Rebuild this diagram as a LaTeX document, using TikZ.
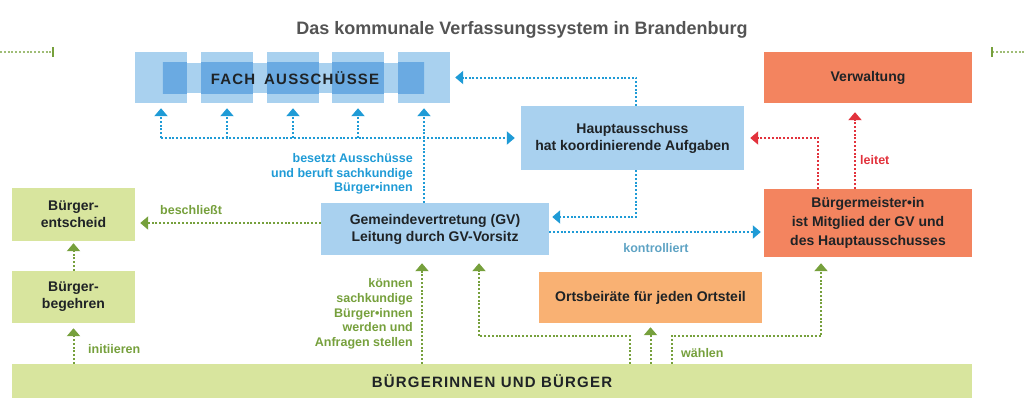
\documentclass[tikz,border=0pt]{standalone}
\usepackage{fontspec}
\setmainfont{Liberation Sans}
\usetikzlibrary{arrows.meta,positioning}
\definecolor{boxblue}{HTML}{A9D1EF}
\definecolor{fachdark}{HTML}{6AAAE2}
\definecolor{coral}{HTML}{F3845F}
\definecolor{apricot}{HTML}{F9B173}
\definecolor{lightgrn}{HTML}{D8E59E}
\definecolor{grn}{HTML}{76A03C}
\definecolor{blu}{HTML}{1F9BD6}
\definecolor{rd}{HTML}{E2323C}
\definecolor{ink}{HTML}{1F2326}
\definecolor{titlegray}{HTML}{545454}

\begin{document}
\begin{tikzpicture}[x=1pt,y=-1pt,
  box/.style={inner sep=0pt,align=center,text=ink,
    font=\fontsize{14}{17}\selectfont\bfseries},
  fachsq/.style={fill=boxblue,inner sep=0pt,minimum width=52pt,minimum height=51pt},
  lbl/.style={inner sep=0pt,font=\fontsize{12.5}{14.75}\selectfont\bfseries},
  dotline/.style={line width=2pt,dash pattern=on 2pt off 1.8pt},
  bluflow/.style={dotline,draw=blu,-{Triangle[width=13pt,length=8pt]}},
  grnflow/.style={dotline,draw=grn,-{Triangle[width=13pt,length=8pt]}},
  redflow/.style={dotline,draw=rd,-{Triangle[width=13pt,length=8pt]}}
]
  \useasboundingbox (0,0) rectangle (1024,413);

  \node[anchor=base,text=titlegray,font=\fontsize{18}{20}\selectfont\bfseries]
    (title) at (522,34) {Das kommunale Verfassungssystem in Brandenburg};

  % Fachausschuesse
  \foreach \i/\x in {1/161,2/227,3/293,4/358,5/424}
    \node[fachsq] (sq\i) at (\x,77.5) {};
  \node[fill=boxblue,inner sep=0pt,minimum width=261pt,minimum height=30pt]
    (fach) at (293.5,78) {};
  \begin{scope}
    \clip (fach.north west) rectangle (fach.south east);
    \foreach \i in {1,...,5}
      \fill[fachdark] (sq\i.north west) rectangle (sq\i.south east);
  \end{scope}
  \node[text=ink,font=\fontsize{15}{18}\selectfont\bfseries\addfontfeatures{LetterSpace=8}]
    (fachtxt) at (295,78) {FACH\hspace{9pt}AUSSCHÜSSE};

  % Kaesten
  \node[box,fill=boxblue,minimum width=223pt,minimum height=64pt] (haupt) at (632.5,138)
    {Hauptausschuss\\hat koordinierende Aufgaben};
  \node[box,fill=coral,minimum width=208pt,minimum height=51pt] (verw) at (868,77.5)
    {Verwaltung};
  \node[box,fill=boxblue,minimum width=228pt,minimum height=52pt] (gv) at (435,229)
    {Gemeindevertretung (GV)\\Leitung durch GV-Vorsitz};
  \node[box,fill=coral,minimum width=208pt,minimum height=68pt,
    font=\fontsize{14}{19}\selectfont\bfseries] (bgm) at (868,223)
    {Bürgermeister•in\\ist Mitglied der GV und\\des Hauptausschusses};
  \node[box,fill=lightgrn,minimum width=123pt,minimum height=53pt] (ent) at (73.5,214.5)
    {Bürger-\\entscheid};
  \node[box,fill=lightgrn,minimum width=123pt,minimum height=52pt] (beg) at (73.5,297)
    {Bürger-\\begehren};
  \node[box,fill=apricot,minimum width=223pt,minimum height=51pt] (orts) at (650.5,297.5)
    {Ortsbeiräte für jeden Ortsteil};
  \node[box,fill=lightgrn,minimum width=960pt,minimum height=34pt,
    font=\fontsize{15}{18}\selectfont\bfseries\addfontfeatures{LetterSpace=8}]
    (bar) at (492,381) {BÜRGERINNEN UND BÜRGER};

  % blaue Verbindungen
  \coordinate (bus) at (sq1 |- haupt.west);
  \draw[bluflow,shorten >=6pt] (bus) -- (haupt.west);
  \foreach \i in {1,...,4}
    \draw[bluflow,shorten >=5pt] (sq\i |- bus) -- (sq\i.south);
  \draw[bluflow,shorten >=5pt] (sq5 |- gv.north) -- (sq5.south);
  \draw[bluflow,shorten >=5pt] ([xshift=3.5pt]haupt.north) |- (sq5.east);
  \draw[bluflow,shorten >=3pt] ([xshift=3.5pt]haupt.south) |- ([yshift=12pt]gv.east);
  \draw[bluflow,shorten >=3pt] ([yshift=-3pt]gv.east) -- ([yshift=-3pt]gv.east -| bgm.west);
  \node[lbl,text=blu,anchor=east,align=right] (besetzt) at (413,174)
    {besetzt Ausschüsse\\und beruft sachkundige\\Bürger•innen};
  \node[lbl,text=blu!80!black!70!white,anchor=base] (kontr) at (656,252) {kontrolliert};

  % rote Verbindungen
  \draw[redflow,shorten >=6pt] ([xshift=-50pt]bgm.north) |- (haupt.east);
  \draw[redflow,shorten >=9pt] ([xshift=-13pt]bgm.north) -- ([xshift=-13pt]verw.south);
  \node[lbl,text=rd,anchor=base west] (leitet) at (860,164) {leitet};

  % gruene Verbindungen
  \draw[grnflow,shorten >=5pt] ([yshift=6pt]gv.west) -- ([yshift=6pt]gv.west -| ent.east);
  \node[lbl,text=grn,anchor=base west] (beschl) at (160,214) {beschließt};
  \draw[grnflow,shorten >=2pt] (beg.north) -- (ent.south);
  \draw[grnflow,shorten >=5pt] (beg.south |- bar.north) -- (beg.south);
  \node[lbl,text=grn,anchor=base west] (init) at (88,353) {initiieren};

  \coordinate (gvin1) at ([xshift=-13pt]gv.south);
  \coordinate (gvin2) at ([xshift=44pt]gv.south);
  \coordinate (bmin) at ([xshift=-47pt]bgm.south);
  \coordinate (wl) at ([xshift=-21pt]orts.south);
  \coordinate (wr) at ([xshift=21pt]orts.south);
  \coordinate (wy) at ([yshift=-13pt]orts.south);
  \draw[grnflow,shorten >=8pt] (gvin1 |- bar.north) -- (gvin1);
  \node[lbl,text=grn,anchor=east,align=right] (koennen) at (413,314)
    {können\\sachkundige\\Bürger•innen\\werden und\\Anfragen stellen};
  \draw[grnflow,shorten >=8pt] (wl |- bar.north) -- (wl |- wy) -- (gvin2 |- wy) -- (gvin2);
  \draw[grnflow,shorten >=4pt] (orts.south |- bar.north) -- (orts.south);
  \draw[grnflow,shorten >=6pt] (wr |- bar.north) -- (wr |- wy) -- (bmin |- wy) -- (bmin);
  \node[lbl,text=grn,anchor=base west] (waehlen) at (681,357) {wählen};

  % Randmarken
  \coordinate (lmark) at (53,52);
  \coordinate (rmark) at (992,52);
  \draw[dotline,draw=grn!70,line width=1.3pt] (0,52) -- (lmark);
  \draw[grn,line width=1.5pt] ([yshift=5pt]lmark) -- ([yshift=-5pt]lmark);
  \draw[dotline,draw=grn!70,line width=1.3pt] (rmark) -- (1024,52);
  \draw[grn,line width=1.5pt] ([yshift=5pt]rmark) -- ([yshift=-5pt]rmark);
\end{tikzpicture}
\end{document}
